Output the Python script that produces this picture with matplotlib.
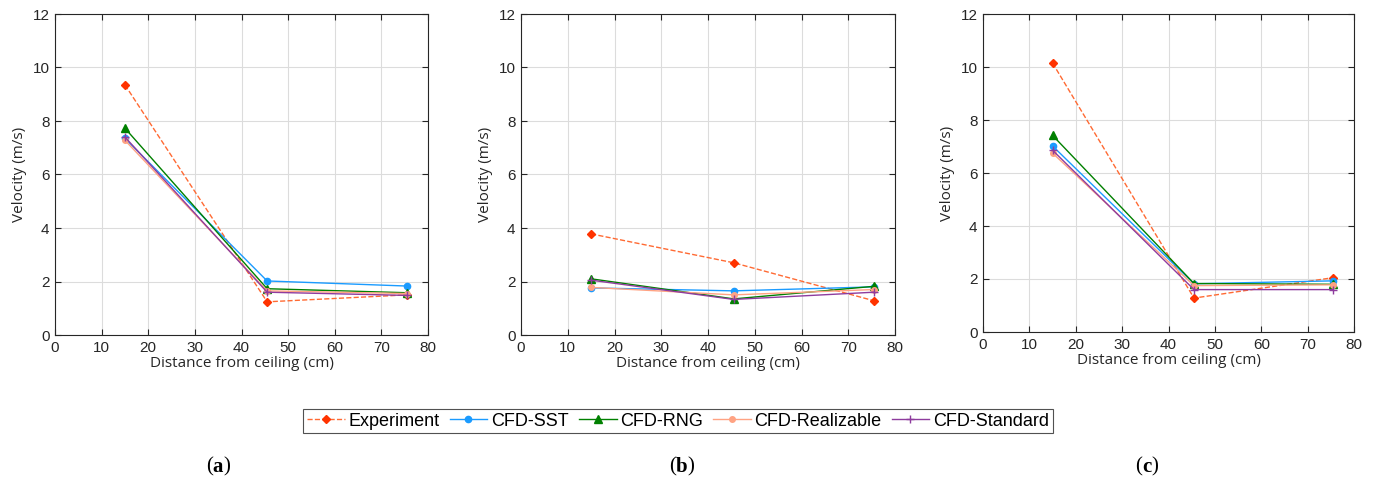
import matplotlib
matplotlib.use("Agg")
import matplotlib.pyplot as plt
from matplotlib.lines import Line2D

plt.rcParams["font.family"] = ["Liberation Sans", "DejaVu Sans"]

# distance from ceiling (cm)
dist = [15, 45.5, 75.5]

# velocity (m/s) per panel, per series
exp_a = [9.35, 1.24, 1.50]
sst_a = [7.35, 2.02, 1.83]
rng_a = [7.73, 1.73, 1.58]
rea_a = [7.28, 1.65, 1.55]
std_a = [7.40, 1.60, 1.48]

exp_b = [3.78, 2.70, 1.28]
sst_b = [1.76, 1.65, 1.80]
rng_b = [2.10, 1.35, 1.82]
rea_b = [1.78, 1.50, 1.70]
std_b = [2.05, 1.33, 1.60]

exp_c = [10.15, 1.28, 2.05]
sst_c = [7.02, 1.82, 1.93]
rng_c = [7.42, 1.83, 1.80]
rea_c = [6.75, 1.75, 1.78]
std_c = [6.86, 1.60, 1.60]

labels = ["Experiment", "CFD-SST", "CFD-RNG", "CFD-Realizable", "CFD-Standard"]
panel_tags = ["a", "b", "c"]

panels = [
    [exp_a, sst_a, rng_a, rea_a, std_a],
    [exp_b, sst_b, rng_b, rea_b, std_b],
    [exp_c, sst_c, rng_c, rea_c, std_c],
]

styles = [
    dict(color="#FF6A33", ls="--", marker="D", ms=4.5, mfc="#FF3300", mec="#FF3300", lw=1.0),
    dict(color="#1A9BFF", ls="-", marker="o", ms=4.5, mfc="#1A9BFF", mec="#1A9BFF", lw=1.0),
    dict(color="#008000", ls="-", marker="^", ms=5.5, mfc="#008000", mec="#008000", lw=1.0),
    dict(color="#FFA383", ls="-", marker="o", ms=4, mfc="#FFA383", mec="#FFA383", lw=1.0),
    dict(color="#8E3C9E", ls="-", marker="+", ms=6, mfc="#8E3C9E", mec="#8E3C9E", lw=1.0),
]

label_font = "Open Sans"

fig = plt.figure(figsize=(13.77, 4.86), dpi=100)

rects = [
    [55 / 1377, 1 - 335 / 486, 373 / 1377, 321 / 486],
    [521 / 1377, 1 - 335 / 486, 374 / 1377, 321 / 486],
    [983 / 1377, 1 - 332 / 486, 371 / 1377, 318 / 486],
]
tag_x = [218, 682, 1147]
# half widths (px) of bold tag letter, to centre "(x)"
tag_half = {"a": 5.2, "b": 5.8, "c": 4.7}

for rect, data, tag, tx in zip(rects, panels, panel_tags, tag_x):
    ax = fig.add_axes(rect)
    for vals, st in zip(data, styles):
        ax.plot(dist, vals, **st)
    ax.set_xlim(0, 80)
    ax.set_ylim(0, 12)
    ax.set_xticks(range(0, 81, 10))
    ax.set_yticks(range(0, 13, 2))
    ax.grid(True, color="#dcdcdc", lw=0.8)
    ax.set_axisbelow(True)
    ax.tick_params(direction="in", top=True, right=True, length=4, width=0.8,
                   labelsize=11, colors="#262626", pad=4)
    for sp in ax.spines.values():
        sp.set_color("#262626")
        sp.set_linewidth(0.8)
    ax.set_xlabel("Distance from ceiling (cm)", fontsize=11, family=label_font,
                  color="#262626", labelpad=1)
    ax.set_ylabel("Velocity (m/s)", fontsize=11, family=label_font,
                  color="#262626", labelpad=4)
    h = tag_half[tag]
    ty = 1 - 467 / 486
    fig.text((tx - h) / 1377, ty, "(", fontsize=15, family="Liberation Serif",
             ha="right", va="center")
    fig.text((tx - h) / 1377, ty, tag, fontsize=15, family="Liberation Serif",
             weight="bold", ha="left", va="center")
    fig.text((tx + h) / 1377, ty, ")", fontsize=15, family="Liberation Serif",
             ha="left", va="center")

handles = [Line2D([], [], **st) for st in styles]
leg = fig.legend(handles, labels, loc="center", bbox_to_anchor=(678 / 1377, 1 - 421 / 486),
                 ncol=5, frameon=True, fancybox=False, edgecolor="#262626",
                 prop={"size": 13}, handlelength=2.1,
                 handletextpad=0.2, columnspacing=0.55, borderpad=0.2)
leg.get_frame().set_linewidth(0.8)

fig.savefig("out.png", dpi=100)
